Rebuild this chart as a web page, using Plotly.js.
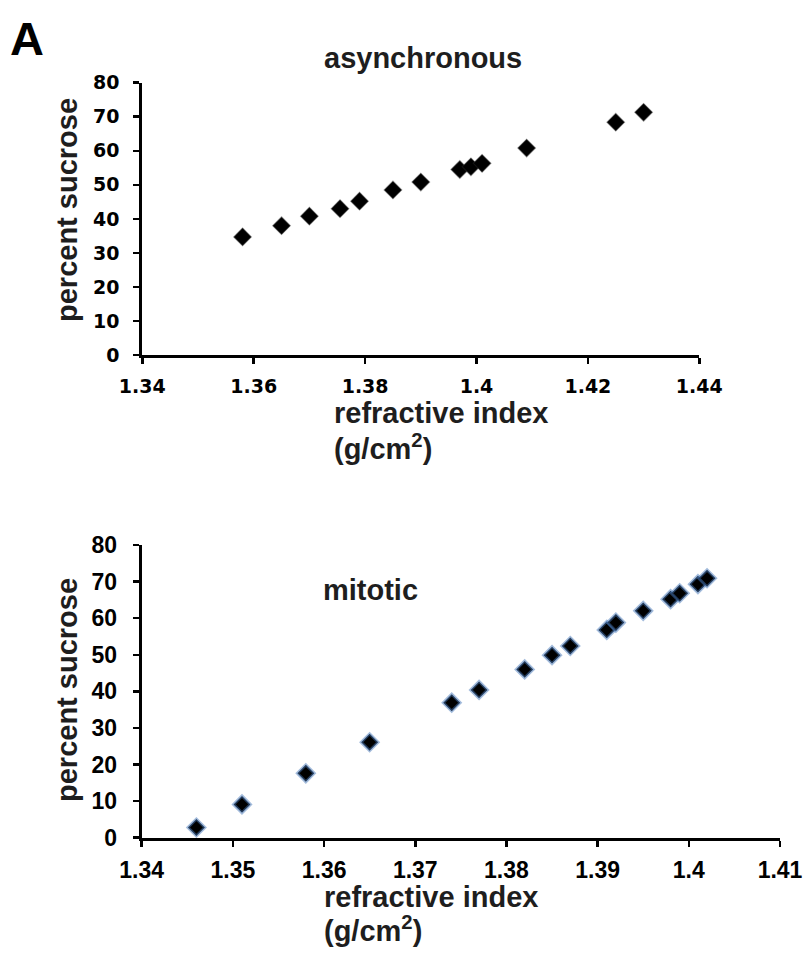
<!DOCTYPE html>
<html>
<head>
<meta charset="utf-8">
<script src="https://cdn.plot.ly/plotly-3.0.1.min.js"></script>
<style>
  html, body { margin: 0; padding: 0; background: #ffffff; }
  #chart { width: 805px; height: 957px; }
</style>
</head>
<body>
<div id="chart"></div>
<script>
// ---------- data ----------
const asyncRefractive = [1.358, 1.365, 1.370, 1.3755, 1.379, 1.385, 1.390, 1.397, 1.399, 1.401, 1.409, 1.425, 1.430];
const asyncSucrose    = [34.7, 38.0, 40.8, 43.0, 45.2, 48.5, 50.8, 54.5, 55.3, 56.3, 60.8, 68.4, 71.3];

const mitoticRefractive = [1.346, 1.351, 1.358, 1.365, 1.374, 1.377, 1.382, 1.385, 1.387, 1.391, 1.392, 1.395, 1.398, 1.399, 1.401, 1.402];
const mitoticSucrose    = [2.8, 9.1, 17.6, 26.1, 36.9, 40.4, 46.0, 49.9, 52.4, 56.8, 58.8, 62.0, 65.2, 66.8, 69.3, 70.9];

const topXTickVals   = [1.34, 1.36, 1.38, 1.40, 1.42, 1.44];
const topXTickText   = ['1.34', '1.36', '1.38', '1.4', '1.42', '1.44'];
const bottomXTickVals = [1.34, 1.35, 1.36, 1.37, 1.38, 1.39, 1.40, 1.41];
const bottomXTickText = ['1.34', '1.35', '1.36', '1.37', '1.38', '1.39', '1.4', '1.41'];
const yTickVals = [0, 10, 20, 30, 40, 50, 60, 70, 80];
const yTickText = ['0', '10', '20', '30', '40', '50', '60', '70', '80'];

const panelTitles = ['asynchronous', 'mitotic'];
const xTitle = 'refractive index';
const xUnit = '(g/cm<sup>2</sup>)';
const yTitle = 'percent sucrose';
const panelLetter = 'A';

// ---------- layout helpers (pixel -> paper) ----------
const W = 805, H = 957;
const px = v => v / W;
const py = v => 1 - v / H;

const traces = [
  {
    x: asyncRefractive, y: asyncSucrose, xaxis: 'x', yaxis: 'y',
    type: 'scatter', mode: 'markers', cliponaxis: false,
    marker: { symbol: 'diamond', size: 13.5, color: '#000000',
              line: { color: 'rgba(40,40,40,0.45)', width: 1.2 } },
    hoverinfo: 'x+y'
  },
  {
    x: mitoticRefractive, y: mitoticSucrose, xaxis: 'x2', yaxis: 'y2',
    type: 'scatter', mode: 'markers', cliponaxis: false,
    marker: { symbol: 'diamond', size: 13, color: '#000000',
              line: { color: 'rgba(70,120,185,0.5)', width: 3 } },
    hoverinfo: 'x+y'
  }
];

const axisCommon = {
  showline: true, linecolor: '#000000', linewidth: 3,
  ticks: 'outside', ticklen: 6, tickwidth: 2.5, tickcolor: '#000000',
  showgrid: false, zeroline: false, mirror: false
};

const topTickFont = { family: 'DejaVu Sans, Verdana, sans-serif', size: 19, color: '#000000', weight: 'bold' };
const botTickFont = { family: 'Liberation Sans, Arial, sans-serif', size: 23, color: '#000000', weight: 'bold' };
const titleFont = { family: 'Liberation Sans, Arial, sans-serif', size: 29, color: '#1e1e1e', weight: 'bold' };
const axTitleFont = { family: 'Liberation Sans, Arial, sans-serif', size: 29, color: '#1e1e1e', weight: 'bold' };

const layout = {
  width: W, height: H,
  margin: { l: 0, r: 0, t: 0, b: 0 },
  paper_bgcolor: '#ffffff', plot_bgcolor: '#ffffff',
  showlegend: false,
  xaxis: Object.assign({}, axisCommon, {
    domain: [px(142.3), px(699.3)], anchor: 'y',
    range: [1.34, 1.44], tickmode: 'array', tickvals: topXTickVals, ticktext: topXTickText,
    tickfont: topTickFont, ticklabelstandoff: 6
  }),
  yaxis: Object.assign({}, axisCommon, {
    domain: [py(355), py(82.7)], anchor: 'x',
    range: [0, 80], tickmode: 'array', tickvals: yTickVals, ticktext: yTickText,
    tickfont: topTickFont, ticklabelstandoff: 10
  }),
  xaxis2: Object.assign({}, axisCommon, {
    domain: [px(141.7), px(780)], anchor: 'y2',
    range: [1.34, 1.41], tickmode: 'array', tickvals: bottomXTickVals, ticktext: bottomXTickText,
    tickfont: botTickFont, ticklabelstandoff: 4
  }),
  yaxis2: Object.assign({}, axisCommon, {
    domain: [py(837.7), py(545)], anchor: 'x2',
    range: [0, 80], tickmode: 'array', tickvals: yTickVals, ticktext: yTickText,
    tickfont: botTickFont, ticklabelstandoff: 11
  }),
  annotations: [
    { text: panelLetter, xref: 'paper', yref: 'paper', x: px(27), y: py(39),
      xanchor: 'center', yanchor: 'middle', showarrow: false,
      font: { family: 'Liberation Sans, Arial, sans-serif', size: 47, color: '#000000', weight: 'bold' } },
    { text: panelTitles[0], xref: 'paper', yref: 'paper', x: px(423), y: py(58),
      xanchor: 'center', yanchor: 'middle', showarrow: false, font: titleFont },
    { text: panelTitles[1], xref: 'paper', yref: 'paper', x: px(370), y: py(590),
      xanchor: 'center', yanchor: 'middle', showarrow: false, font: titleFont },
    // top x title
    { text: xTitle, xref: 'paper', yref: 'paper', x: px(332), y: py(413),
      xanchor: 'left', yanchor: 'middle', showarrow: false, font: axTitleFont },
    { text: xUnit, xref: 'paper', yref: 'paper', x: px(332), y: py(447),
      xanchor: 'left', yanchor: 'middle', showarrow: false, font: axTitleFont },
    // bottom x title
    { text: xTitle, xref: 'paper', yref: 'paper', x: px(322), y: py(897),
      xanchor: 'left', yanchor: 'middle', showarrow: false, font: axTitleFont },
    { text: xUnit, xref: 'paper', yref: 'paper', x: px(322), y: py(929),
      xanchor: 'left', yanchor: 'middle', showarrow: false, font: axTitleFont },
    // y titles
    { text: yTitle, xref: 'paper', yref: 'paper', x: px(67), y: py(210), textangle: -90,
      xanchor: 'center', yanchor: 'middle', showarrow: false, font: axTitleFont },
    { text: yTitle, xref: 'paper', yref: 'paper', x: px(67), y: py(690), textangle: -90,
      xanchor: 'center', yanchor: 'middle', showarrow: false, font: axTitleFont }
  ]
};

Plotly.newPlot('chart', traces, layout, { displayModeBar: false, staticPlot: true });
</script>
</body>
</html>
